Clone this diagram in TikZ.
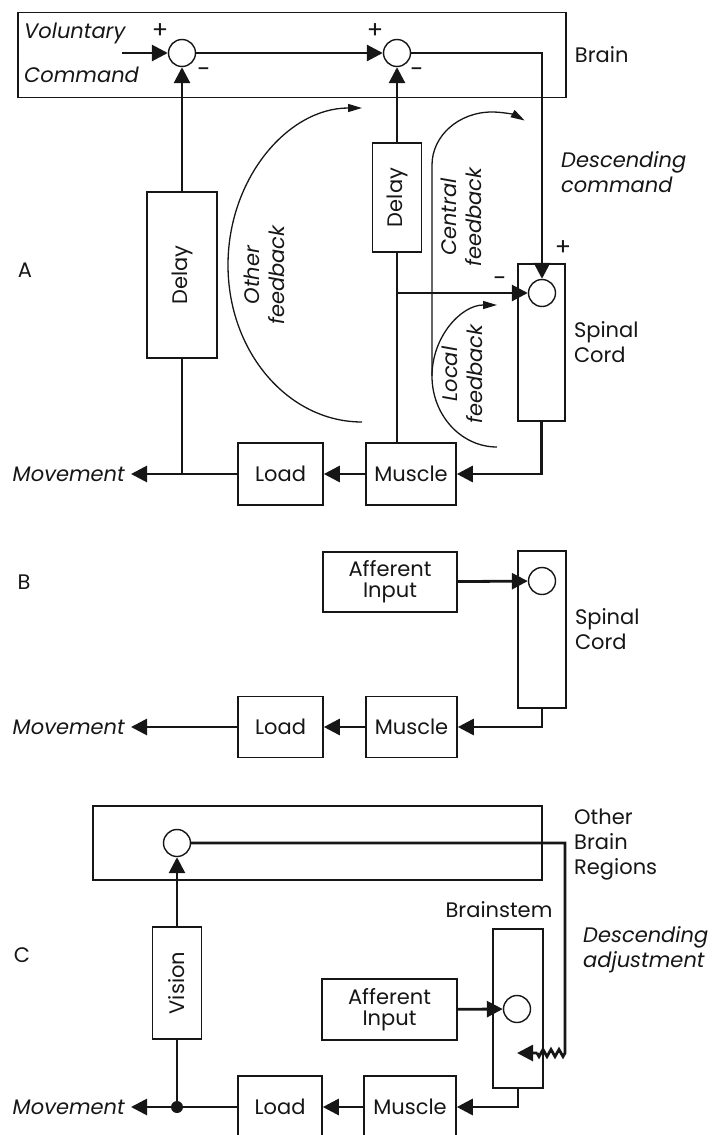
\documentclass[tikz,border=0pt]{standalone}
\usepackage{fontspec}
\setmainfont{Poppins}
\usetikzlibrary{arrows.meta,positioning,calc,decorations.pathmorphing}
\definecolor{ink}{RGB}{22,22,22}
\newcommand{\figfont}{\fontsize{21}{25}\selectfont}
\newcommand{\tightfont}{\fontsize{21}{21}\selectfont}
\tikzset{
  blk/.style={draw=ink,line width=1.6pt,inner sep=0pt,font=\figfont,text=ink,align=center},
  region/.style={draw=ink,line width=1.5pt,inner sep=0pt},
  sumpt/.style={circle,draw=ink,line width=1.4pt,minimum size=27pt,inner sep=0pt,fill=white},
  joint/.style={circle,fill=ink,minimum size=12pt,inner sep=0pt},
  wire/.style={line width=2.8pt,draw=ink},
  sig/.style={wire,-{Triangle[length=16pt,width=16pt]}},
  fb/.style={line width=1.3pt,draw=ink,-{Triangle[length=14pt,width=8pt]}},
  lbl/.style={font=\figfont,text=ink,align=left,inner sep=2pt},
  ital/.style={font=\figfont\itshape,text=ink,align=left,inner sep=2pt},
  pm/.style={font=\fontsize{24}{24}\selectfont,text=ink,inner sep=0pt}
}

\begin{document}
\begin{tikzpicture}[x=1pt,y=-1pt]
  \useasboundingbox (0,0) rectangle (716,1135);
  % ---------- A: full loop
  \node[lbl] (labA) at (25,270) {A};
  \node[region,minimum width=548,minimum height=85] (brainA) at (292,55) {};
  \node[lbl,right=6pt of brainA] (brainL) {Brain};
  \node[sumpt] (sA1) at (182,53) {};
  \node[sumpt] (sA2) at (397,53) {};
  \node[ital,anchor=west] (vol) at (22,33) {Voluntary};
  \node[ital,anchor=west] (cmd) at (22,75) {Command};
  \coordinate (volIn) at (122,53);
  \node[pm] (pA1) at (160,31) {+};
  \node[pm] (mA1) at (204,73) {-};
  \node[pm] (pA2) at (375,31) {+};
  \node[pm] (mA2) at (417,73) {-};

  \node[blk,rotate=90,minimum width=166,minimum height=70] (delayA1) at (182,275) {Delay};
  \node[blk,rotate=90,minimum width=109,minimum height=49] (delayA2) at (397,197.5) {Delay};
  \node[blk,minimum width=47,minimum height=157] (cordA) at (541.5,342.5) {};
  \node[sumpt] (sA3) at (542,293) {};
  \node[pm] (pA3) at (563,248) {+};
  \node[pm] (mA3) at (500,282) {-};
  \node[lbl,right=6pt of cordA] (cordAL) {Spinal\\Cord};
  \node[ital,anchor=west] (descA) at (559,172) {Descending\\command};

  \node[blk,minimum width=90,minimum height=62] (muscleA) at (411,474) {Muscle};
  \node[blk,minimum width=85,minimum height=62] (loadA) at (280.5,474) {Load};
  \node[ital,anchor=east,inner xsep=6pt] (movA) at (131,474) {Movement};

  \draw[sig] (volIn) -- (sA1);
  \draw[sig] (sA1) -- (sA2);
  \draw[sig] (sA2) -| (sA3);
  \draw[sig] (delayA1) -- (sA1);
  \draw[wire] (delayA1) -- (delayA1 |- loadA);
  \draw[sig] (delayA2) -- (sA2);
  \draw[wire] (delayA2) -- (delayA2 |- muscleA.north);
  \draw[sig] (delayA2 |- sA3) -- (sA3);
  \draw[sig] (cordA.south) |- (muscleA.east);
  \draw[sig] (muscleA) -- (loadA);
  \draw[sig] (loadA) -- (movA);

  % feedback paths
  \coordinate (otherS) at (362,422);
  \coordinate (centralS) at (432,376);
  \coordinate (localS) at (497,447);
  \draw[fb] (otherS) arc[start angle=90,end angle=270,x radius=134,y radius=157];
  \draw[fb] (centralS) -- (432,165) arc[start angle=180,end angle=303,x radius=60,y radius=53];
  \draw[fb] (localS) arc[start angle=90,end angle=270,x radius=65,y radius=71];
  \node[ital,rotate=90,align=center] (otherL) at (264,275) {Other\\feedback};
  \node[ital,rotate=90,align=center] (centralL) at (461,217) {Central\\feedback};
  \node[ital,rotate=90,align=center] (localL) at (462,374) {Local\\feedback};

  % ---------- B: spinal reflex
  \node[lbl] (labB) at (24,582) {B};
  \node[blk,minimum width=134,minimum height=60,font=\tightfont] (affB) at (390,582) {Afferent\\Input};
  \node[blk,minimum width=48,minimum height=157] (cordB) at (542,629.5) {};
  \node[sumpt] (sB) at (542,581) {};
  \node[lbl,right=6pt of cordB] (cordBL) {Spinal\\Cord};
  \node[blk,minimum width=91,minimum height=61] (muscleB) at (411.5,727) {Muscle};
  \node[blk,minimum width=85,minimum height=61] (loadB) at (280.5,727) {Load};
  \node[ital,anchor=east,inner xsep=6pt] (movB) at (131,727) {Movement};
  \draw[sig] (affB) -- (sB);
  \draw[sig] (cordB.south) |- (muscleB.east);
  \draw[sig] (muscleB) -- (loadB);
  \draw[sig] (loadB) -- (movB);

  % ---------- C: brainstem adjustment
  \node[lbl] (labC) at (22,955) {C};
  \node[region,minimum width=449,minimum height=74] (brainC) at (317.5,843) {};
  \node[sumpt] (sC1) at (177,843) {};
  \node[lbl,anchor=west] (otherBL) at (572,845) {Other\\Brain\\Regions};
  \node[blk,rotate=90,minimum width=112,minimum height=49] (visC) at (177,983) {Vision};
  \node[blk,minimum width=50,minimum height=159] (stemC) at (518,1008.5) {};
  \node[lbl] (stemL) at (499,910) {Brainstem};
  \node[sumpt] (sC2) at (517,1009) {};
  \node[blk,minimum width=135,minimum height=61,font=\tightfont] (affC) at (389.5,1009.5) {Afferent\\Input};
  \node[ital,anchor=west] (descC) at (581,950) {Descending\\adjustment};
  \node[blk,minimum width=92,minimum height=62] (muscleC) at (410,1107) {Muscle};
  \node[blk,minimum width=84,minimum height=62] (loadC) at (280,1107) {Load};
  \node[ital,anchor=east,inner xsep=6pt] (movC) at (131,1107) {Movement};
  \coordinate (adjC) at (565,1053);
  \coordinate (adjTip) at (517,1053);

  \draw[sig] (visC) -- (sC1);
  \draw[sig] (affC) -- (sC2);
  \draw[sig] (sC1) -| (adjC) decorate[decoration={zigzag,segment length=8pt,amplitude=3.5pt}] {-- ++(-28,0)} -- (adjTip);
  \draw[sig] (stemC.south) |- (muscleC.east);
  \draw[sig] (muscleC) -- (loadC);
  \draw[sig] (loadC) -- (movC);
  \node[joint] (jC) at (visC |- loadC) {};
  \draw[wire] (visC) -- (jC);
\end{tikzpicture}
\end{document}
